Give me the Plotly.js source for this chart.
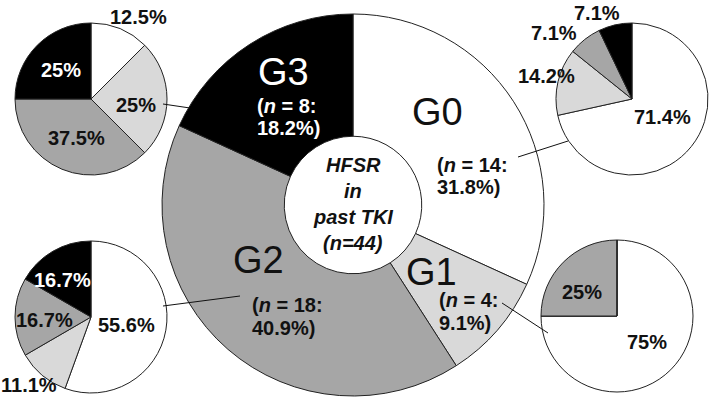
<!DOCTYPE html>
<html>
<head>
<meta charset="utf-8">
<script src="https://cdn.plot.ly/plotly-3.0.1.min.js"></script>
<style>html,body{margin:0;padding:0;background:#fff}#chart{width:709px;height:400px}</style>
</head>
<body>
<div id="chart"></div>
<script>
var grades = ['G0', 'G1', 'G2', 'G3'];
var counts = [14, 4, 18, 8];
var shares = ['31.8%', '9.1%', '40.9%', '18.2%'];
var centerLines = ['HFSR', 'in', 'past TKI', '(<i>n</i>=44)'];

// breakdown of each past grade: white, light gray, gray, black
var subG0 = [71.4, 14.2, 7.1, 7.1];
var subG1 = [75, 0, 25, 0];
var subG2 = [55.6, 11.1, 16.7, 16.7];
var subG3 = [12.5, 25, 37.5, 25];

var colors = ['#ffffff', '#d9d9d9', '#a6a6a6', '#000000'];
var W = 709, H = 400;
var FONT = 'Arial, "Liberation Sans", sans-serif';

function px(x) { return x / W; }
function py(y) { return 1 - y / H; }
function dom(cx, cy, r) {
  return {x: [px(cx - r), px(cx + r)], y: [py(cy + r), py(cy - r)]};
}

function pie(values, d, hole) {
  return {
    type: 'pie', values: values, labels: grades, sort: false,
    direction: 'clockwise', rotation: 0, hole: hole || 0,
    marker: {colors: colors, line: {color: '#222', width: 1}},
    textinfo: 'none', hoverinfo: 'none', domain: d, showlegend: false
  };
}

var data = [pie(counts, dom(353, 205, 191), 0.36)];

// small pies: values, centre, label spots (null = no label)
var subs = [
  {v: subG0, c: [632, 99], at: [[662, 117], [546, 76], [554, 33], [597, 13]], out: [false, true, true, true]},
  {v: subG1, c: [617, 316], at: [[647, 342], null, [582, 292], null], out: [false, false, false, false]},
  {v: subG2, c: [91, 317], at: [[126, 325], [29, 385], [44, 320], [62, 280]], out: [false, true, false, false]},
  {v: subG3, c: [91, 99], at: [[138, 17], [136, 105], [76, 138], [61, 70]], out: [true, false, false, false]}
];

var annotations = [];
function note(text, x, y, size, color, anchor) {
  annotations.push({
    text: text, x: px(x), y: py(y), xref: 'paper', yref: 'paper',
    xanchor: anchor || 'center', yanchor: 'middle', showarrow: false,
    font: {family: FONT, size: size, color: color}
  });
}

subs.forEach(function (s) {
  data.push(pie(s.v, dom(s.c[0], s.c[1], 76)));
  s.v.forEach(function (v, i) {
    if (!s.at[i]) return;
    var col = (i === 3 && !s.out[i]) ? '#fff' : '#111';
    note('<b>' + v + '%</b>', s.at[i][0], s.at[i][1], 20, col);
  });
});

// big donut labels
var nameAt = [[437, 112], [431, 272], [258, 260], [283, 72]];
var infoAt = [[435, 165, 187], [437, 300, 323], [250, 305, 328], [255, 106, 128]];
grades.forEach(function (g, i) {
  var col = i === 3 ? '#fff' : '#111';
  note(g, nameAt[i][0], nameAt[i][1], 38, col);
  note('<b>(<i>n</i> = ' + counts[i] + ':</b>', infoAt[i][0], infoAt[i][1], 20, col, 'left');
  note('<b>' + shares[i] + ')</b>', infoAt[i][0], infoAt[i][2], 20, col, 'left');
});

centerLines.forEach(function (t, i) {
  note('<b><i>' + t + '</i></b>', 353, 165 + i * 26, 20, '#111');
});

// connector lines from small pies to the donut
var links = [[[163, 104], [190, 108]], [[518, 157], [568, 141]], [[163, 306], [240, 296]], [[502, 303], [548, 333]]];
var shapes = links.map(function (l) {
  return {type: 'line', xref: 'paper', yref: 'paper',
    x0: px(l[0][0]), y0: py(l[0][1]), x1: px(l[1][0]), y1: py(l[1][1]),
    line: {color: '#111', width: 1}, layer: 'above'};
});

var layout = {
  width: W, height: H,
  margin: {l: 0, r: 0, t: 0, b: 0},
  paper_bgcolor: '#fff',
  annotations: annotations,
  shapes: shapes,
  showlegend: false
};

Plotly.newPlot('chart', data, layout, {staticPlot: true});
</script>
</body>
</html>
